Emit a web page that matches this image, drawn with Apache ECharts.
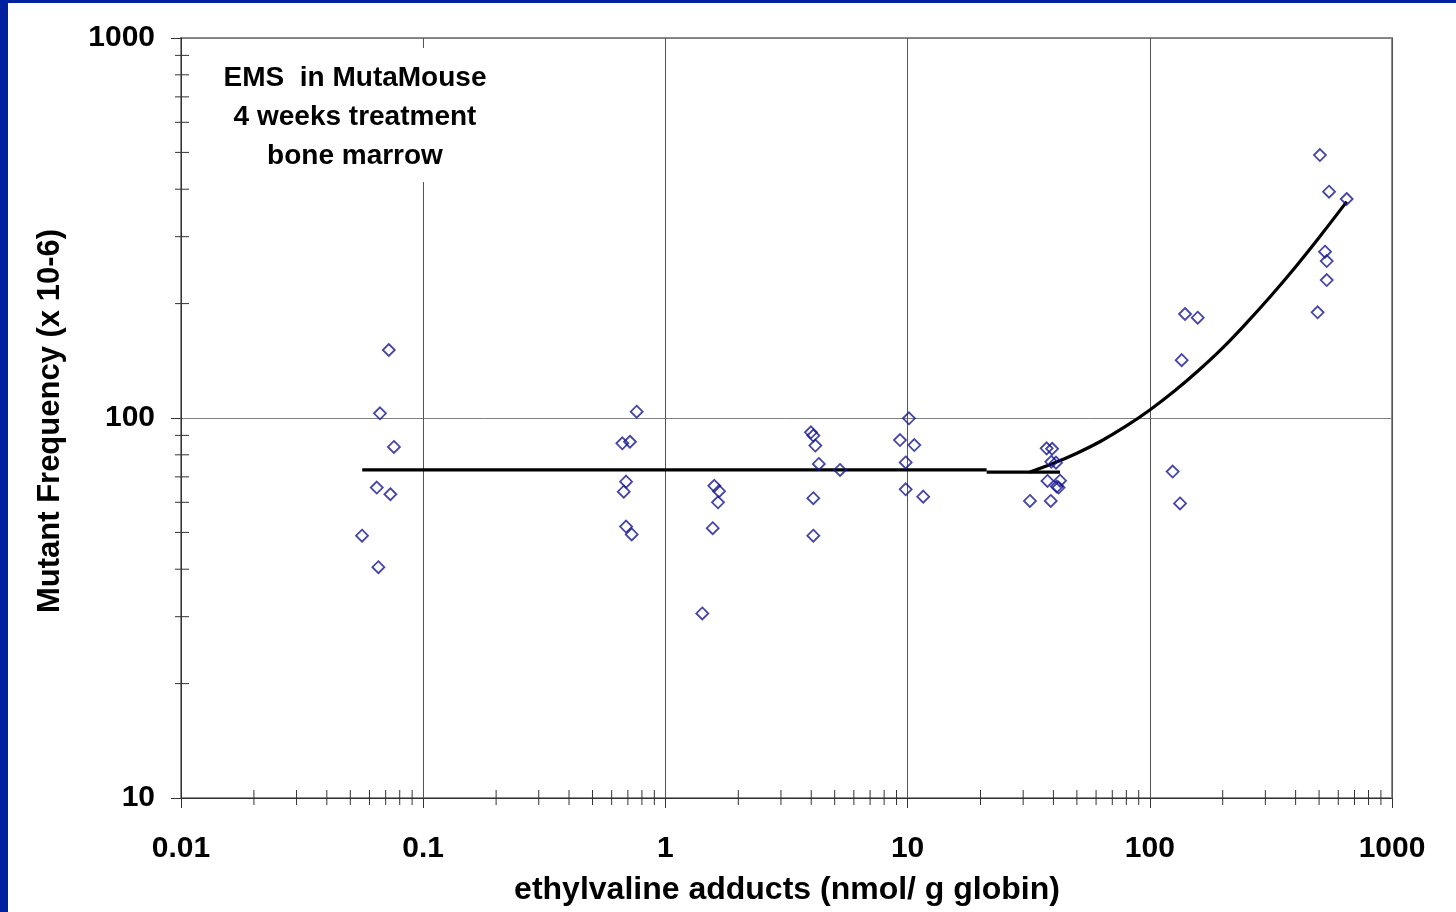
<!DOCTYPE html>
<html>
<head>
<meta charset="utf-8">
<script src="https://cdn.jsdelivr.net/npm/echarts@6/dist/echarts.min.js"></script>
<style>
html,body{margin:0;padding:0;background:#fff;}
#chart{width:1456px;height:912px;}
</style>
</head>
<body>
<div id="chart"></div>
<script>
// ---- data ----
const adductX = [
  0.0721, 0.0663, 0.0757, 0.0643, 0.0732, 0.0559, 0.0653,
  0.761, 0.664, 0.714, 0.688, 0.673, 0.688, 0.726,
  1.592, 1.665, 1.649, 1.568, 1.420,
  3.99, 4.08, 4.16, 4.30, 5.26, 4.08, 4.08,
  10.13, 9.30, 10.66, 9.82, 9.82, 11.6,
  37.5, 39.5, 39.2, 41.0, 37.8, 42.6, 41.3, 42.0, 32.0, 39.0,
  139.8, 157.7, 135.4, 124.3, 133.3,
  493, 504, 549.6, 650, 529, 537.6, 537.6
];
const mutantFreq = [
  151, 102.9, 83.9, 65.6, 63.0, 49.0, 40.5,
  103.9, 85.8, 86.6, 68.0, 64.0, 51.8, 49.4,
  66.3, 64.2, 60.0, 51.3, 30.6,
  91.7, 89.9, 84.6, 75.7, 73.0, 61.5, 49.0,
  99.8, 87.5, 84.9, 76.4, 64.9, 62.1,
  83.2, 83.0, 76.7, 76.3, 68.3, 68.4, 66.0, 65.6, 60.5, 60.5,
  187.8, 183.6, 142, 72.3, 59.6,
  189.7, 492, 394, 377, 274, 258.8, 230.7
];
const flatLineX = [0.056, 21.2];
const flatLineY = [73.0, 73.0];
const flatLine2X = [21.2, 42.6];
const flatLine2Y = [72.0, 72.0];
const curveX = [32, 40, 50, 63, 80, 100, 126, 158, 200, 251, 316, 398, 501, 650];
const curveY = [72.1, 76, 80.8, 87, 95.3, 105, 117.6, 133, 153, 178, 209.5, 249, 299, 371];
const xTickLabels = ['0.01', '0.1', '1', '10', '100', '1000'];
const yTickLabels = ['10', '100', '1000'];
const boxLines = ['EMS  in MutaMouse', '4 weeks treatment', 'bone marrow'];
const xTitle = 'ethylvaline adducts (nmol/ g globin)';
const yTitle = 'Mutant Frequency (x 10-6)';

// minor tick positions (2..9 within each decade)
const xMinor = [];
[0.01, 0.1, 1, 10, 100].forEach(d => { for (let k = 2; k <= 9; k++) xMinor.push([k * d, 10]); });
const yMinor = [];
[10, 100].forEach(d => { for (let k = 2; k <= 9; k++) yMinor.push([0.01, k * d]); });

const FONT = 'Arial, "Liberation Sans", sans-serif';
const zip = (a, b) => a.map((v, i) => [v, b[i]]);

const chart = echarts.init(document.getElementById('chart'), null, {renderer: 'canvas'});
chart.setOption({
  animation: false,
  backgroundColor: '#ffffff',
  grid: {left: 181, right: 64, top: 38, bottom: 114, show: true, borderColor: '#8c8c8c', borderWidth: 2, backgroundColor: 'transparent'},
  xAxis: {
    type: 'log', logBase: 10, min: 0.01, max: 1000,
    axisLine: {show: true, lineStyle: {color: '#333', width: 1}},
    axisTick: {show: true, inside: false, length: 10, lineStyle: {color: '#333', width: 1}},
    axisLabel: {
      margin: 36, color: '#000', fontSize: 30, fontWeight: 'bold', fontFamily: FONT,
      showMinLabel: true, showMaxLabel: true,
      formatter: v => xTickLabels[Math.round(Math.log10(v)) + 2]
    },
    splitLine: {show: true, lineStyle: {color: '#555', width: 1}},
    minorTick: {show: false}, minorSplitLine: {show: false}
  },
  yAxis: {
    type: 'log', logBase: 10, min: 10, max: 1000,
    axisLine: {show: true, lineStyle: {color: '#333', width: 1}},
    axisTick: {show: true, inside: false, length: 10, lineStyle: {color: '#333', width: 1}},
    axisLabel: {
      margin: 26, color: '#000', fontSize: 30, fontWeight: 'bold', fontFamily: FONT,
      showMinLabel: true, showMaxLabel: true, padding: [5, 0, 0, 0],
      formatter: v => yTickLabels[Math.round(Math.log10(v)) - 1]
    },
    splitLine: {show: true, lineStyle: {color: '#808080', width: 1}},
    minorTick: {show: false}, minorSplitLine: {show: false}
  },
  graphic: [
    {type: 'rect', left: 0, top: 0, shape: {width: 8, height: 912}, style: {fill: '#0022a0'}, z: 100},
    {type: 'rect', left: 0, top: 0, shape: {width: 1456, height: 3}, style: {fill: '#0022a0'}, z: 100},
    {type: 'rect', left: 205, top: 48, shape: {width: 300, height: 134}, style: {fill: '#ffffff'}, z: 50},
    ...boxLines.map((t, i) => ({
      type: 'text', x: 355, y: 78 + i * 39, z: 51,
      style: {text: t, fill: '#000', font: 'bold 28px ' + FONT, textAlign: 'center', textVerticalAlign: 'middle'}
    })),
    {type: 'text', x: 787, y: 890, z: 51,
      style: {text: xTitle, fill: '#000', font: 'bold 32px ' + FONT, textAlign: 'center', textVerticalAlign: 'middle'}},
    {type: 'text', x: 50, y: 421, rotation: Math.PI / 2, z: 51,
      style: {text: yTitle, fill: '#000', font: 'bold 31px ' + FONT, textAlign: 'center', textVerticalAlign: 'middle'}}
  ],
  series: [
    {
      type: 'custom', name: 'xMinorTicks', data: xMinor, clip: false, silent: true, z: 5,
      renderItem: (params, api) => {
        const p = api.coord([api.value(0), api.value(1)]);
        return {type: 'line', shape: {x1: p[0], y1: p[1] - 8, x2: p[0], y2: p[1] + 7}, style: {stroke: '#333', lineWidth: 1}};
      }
    },
    {
      type: 'custom', name: 'yMinorTicks', data: yMinor, clip: false, silent: true, z: 5,
      renderItem: (params, api) => {
        const p = api.coord([api.value(0), api.value(1)]);
        return {type: 'line', shape: {x1: p[0] - 6, y1: p[1], x2: p[0] + 8, y2: p[1]}, style: {stroke: '#333', lineWidth: 1}};
      }
    },
    {
      type: 'line', name: 'flat', data: zip(flatLineX, flatLineY), showSymbol: false, symbol: 'none',
      lineStyle: {color: '#000', width: 3.2}, z: 3
    },
    {
      type: 'line', name: 'flat2', data: zip(flatLine2X, flatLine2Y), showSymbol: false, symbol: 'none',
      lineStyle: {color: '#000', width: 3.2}, z: 3
    },
    {
      type: 'line', name: 'fit', data: zip(curveX, curveY), showSymbol: false, symbol: 'none', smooth: 0.4,
      lineStyle: {color: '#000', width: 3.2}, z: 3
    },
    {
      type: 'scatter', name: 'MF', data: zip(adductX, mutantFreq),
      symbol: 'diamond', symbolSize: [12, 12],
      itemStyle: {color: 'rgba(0,0,0,0)', borderColor: '#16168e', borderWidth: 1.8}, z: 4
    }
  ]
});
</script>
</body>
</html>
